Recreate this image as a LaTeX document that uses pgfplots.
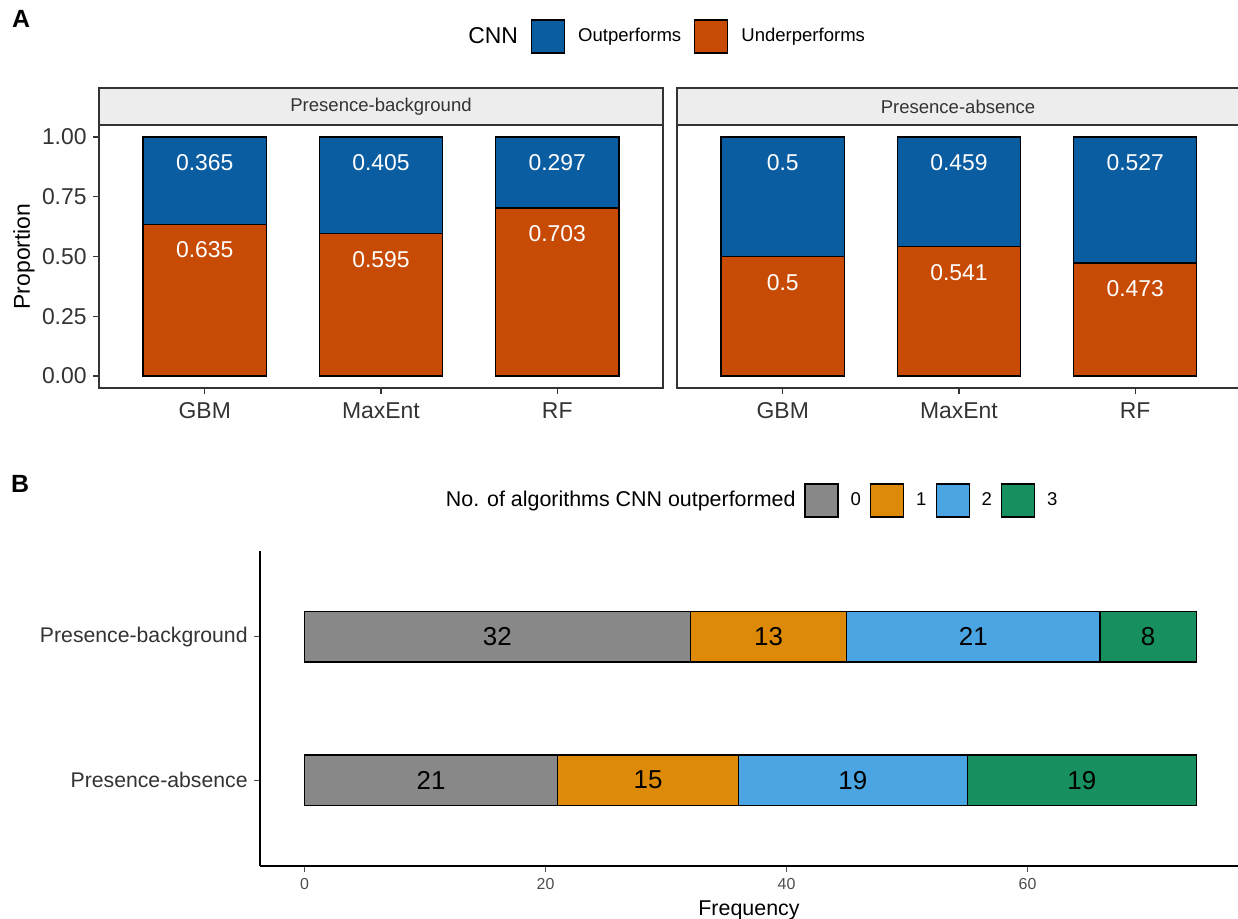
\documentclass[border=0pt]{standalone}
\usepackage{fontspec}
\setmainfont{Liberation Sans}
\usepackage{pgfplots}
\pgfplotsset{compat=1.18}
\definecolor{cblue}{HTML}{0B5DA2}
\definecolor{corange}{HTML}{C84B05}
\definecolor{bgray}{HTML}{888888}
\definecolor{borange}{HTML}{DE8A09}
\definecolor{bsky}{HTML}{4BA5E3}
\definecolor{bgreen}{HTML}{178F5F}
\definecolor{g20}{HTML}{333333}
\definecolor{g30}{HTML}{4D4D4D}
\definecolor{stripfill}{HTML}{EDEDED}
\newcommand{\fs}[1]{\fontsize{#1}{#1}\selectfont}

\begin{document}
\begin{tikzpicture}
\useasboundingbox (0,0) rectangle (619bp,-459.5bp);

% ---------------- Panel A, left facet ----------------
\begin{axis}[
  at={(49.5bp,-194bp)}, anchor=south west,
  scale only axis, width=282bp, height=131.5bp,
  xmin=0.4, xmax=3.6, ymin=-0.05, ymax=1.05,
  enlargelimits=false,
  ybar stacked, bar width=0.7,
  xtick={1,2,3}, xticklabels={GBM,MaxEnt,RF},
  ytick={0,0.25,0.5,0.75,1}, yticklabels={0.00,0.25,0.50,0.75,1.00},
  xtick pos=lower, ytick pos=left,
  tick align=outside, major tick length=3bp,
  tick style={g20, line width=0.6bp},
  axis line style={g20, line width=0.6bp},
  ticklabel style={font=\fs{11.5}, text=g20, inner sep=0pt},
  xticklabel style={yshift=-4bp},
  yticklabel style={xshift=-3bp},
  ylabel={Proportion},
  ylabel style={at={(axis description cs:-0.133,0.5)}, anchor=center, font=\fs{11.5}, text=black},
  legend style={at={(axis description cs:0.6312,1.3365)}, anchor=west,
    draw=none, fill=none, inner sep=0pt, font=\fs{9.3},
    nodes={inner sep=0pt},
    /tikz/every odd column/.style={column sep=6.5bp},
    /tikz/every even column/.style={column sep=6.5bp}},
  legend columns=-1, legend cell align=left,
  legend image code/.code={\draw[#1, draw=black, line width=0.6bp] (0bp,-8.25bp) rectangle (16.5bp,8.25bp);},
]
\addlegendimage{empty legend}\addlegendentry{\fs{11.5}CNN}
\addlegendimage{fill=cblue}\addlegendentry{Outperforms\hspace{2.5bp}}
\addlegendimage{fill=corange}\addlegendentry{Underperforms}
\addplot[forget plot, fill=corange, draw=black, line width=0.6bp] coordinates {(1,0.635) (2,0.595) (3,0.703)};
\addplot[forget plot, fill=cblue, draw=black, line width=0.6bp] coordinates {(1,0.365) (2,0.405) (3,0.297)};
\end{axis}
\begin{axis}[
  at={(49.5bp,-194bp)}, anchor=south west,
  scale only axis, width=282bp, height=131.5bp,
  xmin=0.4, xmax=3.6, ymin=-0.05, ymax=1.05, hide axis,
]
\addplot[mark=none, draw=none, nodes near coords, point meta=explicit symbolic,
  nodes near coords style={anchor=center, font=\fs{11.5}, text=white, inner sep=0pt}]
  table[meta=lab] {
x y lab
1 0.892 0.365
2 0.892 0.405
3 0.892 0.297
1 0.527 0.635
2 0.487 0.595
3 0.595 0.703
};
\end{axis}

% ---------------- Panel A, right facet ----------------
\begin{axis}[
  at={(338.5bp,-194bp)}, anchor=south west,
  scale only axis, width=281bp, height=131.5bp,
  xmin=0.4, xmax=3.589, ymin=-0.05, ymax=1.05,
  enlargelimits=false,
  ybar stacked, bar width=0.7,
  xtick={1,2,3}, xticklabels={GBM,MaxEnt,RF},
  ytick=\empty,
  xtick pos=lower,
  tick align=outside, major tick length=3bp,
  tick style={g20, line width=0.6bp},
  axis line style={g20, line width=0.6bp},
  ticklabel style={font=\fs{11.5}, text=g20, inner sep=0pt},
  xticklabel style={yshift=-4bp},
]
\addplot[fill=corange, draw=black, line width=0.6bp] coordinates {(1,0.5) (2,0.541) (3,0.473)};
\addplot[fill=cblue, draw=black, line width=0.6bp] coordinates {(1,0.5) (2,0.459) (3,0.527)};
\end{axis}
\begin{axis}[
  at={(338.5bp,-194bp)}, anchor=south west,
  scale only axis, width=281bp, height=131.5bp,
  xmin=0.4, xmax=3.589, ymin=-0.05, ymax=1.05, hide axis,
]
\addplot[mark=none, draw=none, nodes near coords, point meta=explicit symbolic,
  nodes near coords style={anchor=center, font=\fs{11.5}, text=white, inner sep=0pt}]
  table[meta=lab] {
x y lab
1 0.892 0.5
2 0.892 0.459
3 0.892 0.527
1 0.392 0.5
2 0.433 0.541
3 0.365 0.473
};
\end{axis}

% strips
\draw[fill=stripfill, draw=g20, line width=0.6bp] (49.5bp,-44bp) rectangle (331.5bp,-62.5bp);
\node[font=\fs{9.3}, text=g20] at (190.5bp,-53.25bp) {Presence-background};
\draw[fill=stripfill, draw=g20, line width=0.6bp] (338.5bp,-44bp) rectangle (619.5bp,-62.5bp);
\node[font=\fs{9.3}, text=g20] at (479bp,-53.25bp) {Presence-absence};

% panel tags
\node[font=\fs{12.5}\bfseries] at (10.5bp,-9.5bp) {A};
\node[font=\fs{12.5}\bfseries] at (10bp,-242bp) {B};

% ---------------- Panel B ----------------
\begin{axis}[
  at={(130bp,-433bp)}, anchor=south west,
  scale only axis, width=489bp, height=157.5bp,
  xmin=-3.7, xmax=77.46, ymin=0.4, ymax=2.6,
  enlargelimits=false,
  xbar stacked, bar width=0.35,
  ytick={1,2}, yticklabels={Presence-absence,Presence-background},
  xtick={0,20,40,60},
  axis x line*=bottom, axis y line*=left,
  axis line style={black, line width=0.6bp},
  tick align=outside, major tick length=3bp,
  tick style={g30, line width=0.5bp},
  /pgf/number format/assume math mode=true,
  yticklabel style={font=\fs{10.65}, text=g20, inner sep=0pt, xshift=-3bp},
  xticklabel style={font=\fs{8}, text=g30, inner sep=0pt, yshift=-3bp},
  xlabel={Frequency},
  xlabel style={at={(axis description cs:0.5,-0.157)}, anchor=base, font=\fs{10.75}, text=black},
  legend style={at={(axis description cs:0.1774,1.1603)}, anchor=west,
    draw=none, fill=none, inner sep=0pt, font=\fs{9.3},
    nodes={inner sep=0pt},
    /tikz/every odd column/.style={column sep=6bp},
    /tikz/every even column/.style={column sep=4.5bp}},
  legend columns=-1, legend cell align=left,
  legend image code/.code={\draw[#1, draw=black, line width=0.6bp] (0bp,-8.25bp) rectangle (16.5bp,8.25bp);},
]
\addlegendimage{empty legend}\addlegendentry{\fs{10.75}No. of algorithms CNN outperformed\hspace{2.25bp}}
\addplot[fill=bgray, draw=black, line width=0.6bp] coordinates {(21,1) (32,2)};
\addlegendentry{0}
\addplot[fill=borange, draw=black, line width=0.6bp] coordinates {(15,1) (13,2)};
\addlegendentry{1}
\addplot[fill=bsky, draw=black, line width=0.6bp] coordinates {(19,1) (21,2)};
\addlegendentry{2}
\addplot[fill=bgreen, draw=black, line width=0.6bp] coordinates {(19,1) (8,2)};
\addlegendentry{3}
\end{axis}
\begin{axis}[
  at={(130bp,-433bp)}, anchor=south west,
  scale only axis, width=489bp, height=157.5bp,
  xmin=-3.7, xmax=77.46, ymin=0.4, ymax=2.6, hide axis,
]
\addplot[mark=none, draw=none, nodes near coords, point meta=explicit symbolic,
  nodes near coords style={anchor=center, font=\fs{13}, text=black, inner sep=0pt}]
  table[meta=lab] {
x y lab
16 2 32
38.5 2 13
55.5 2 21
70 2 8
10.5 1 21
28.5 1 15
45.5 1 19
64.5 1 19
};
\end{axis}
\end{tikzpicture}
\end{document}
